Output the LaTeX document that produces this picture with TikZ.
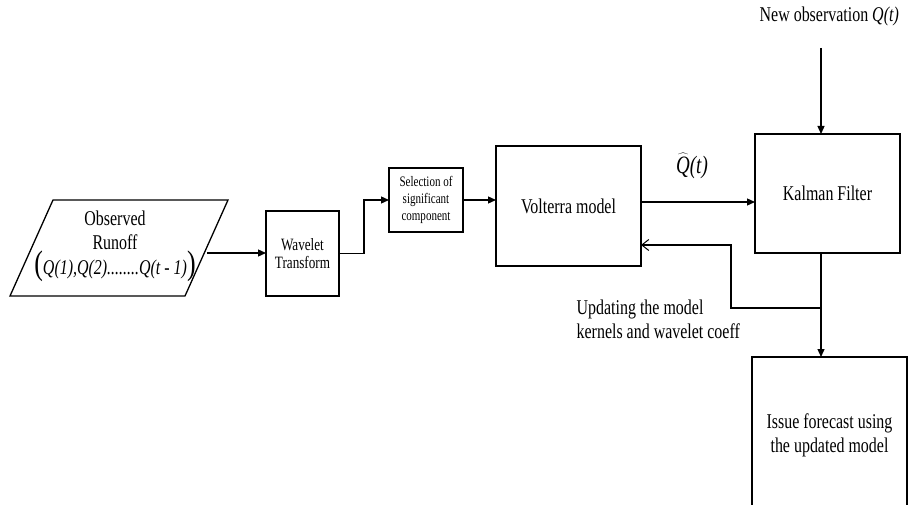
\documentclass[tikz,border=0pt]{standalone}
\usepackage{fontspec}
\setmainfont{Liberation Serif}[FakeStretch=0.76]
\usetikzlibrary{arrows.meta,calc}
\begin{document}
\begin{tikzpicture}[x=1pt,y=-1pt,line width=1.3pt,
  box/.style={draw,rectangle,inner sep=0pt,outer sep=0pt,align=center},
  arr/.style={-{Triangle[length=8pt,width=7pt]}},
  barb/.style={-{Straight Barb[length=7pt,width=11pt,line width=1pt]}},
  bigtxt/.style={font=\fontsize{21}{24}\selectfont},
  midtxt/.style={font=\fontsize{17.3}{18}\selectfont},
  smltxt/.style={font=\fontsize{14.5}{17}\selectfont}]
\useasboundingbox (0,0) rectangle (910,505);
% observed runoff parallelogram
\draw (53,200) -- (228,200) -- (185,296) -- (10,296) -- cycle;
\node[bigtxt,align=center,inner sep=0pt] (obs) at (115,246)
  {Observed\\Runoff\\[1pt]{\fontsize{34}{34}\selectfont(}\textit{Q(1),Q(2)........Q(t - 1)}{\fontsize{34}{34}\selectfont)}};
\coordinate (obsout) at (207,253);
% boxes
\node[box,midtxt,minimum width=73pt,minimum height=85pt] (wav) at (302.5,253.5) {Wavelet\\Transform};
\node[box,smltxt,minimum width=74pt,minimum height=64pt] (sel) at (426,200) {Selection of\\significant\\component};
\node[box,bigtxt,minimum width=145pt,minimum height=120pt] (vol) at (568.5,206) {Volterra model};
\node[box,bigtxt,minimum width=145pt,minimum height=119pt] (kal) at (827.5,193.5) {\raisebox{-6pt}{Kalman Filter}};
\node[box,bigtxt,minimum width=155pt,minimum height=156pt] (iss) at (829.5,435) {Issue forecast using\\the updated model};
% labels
\node[bigtxt,anchor=west,inner sep=0pt] (newobs) at (759,16) {New observation \textit{Q(t)}};
\node[font=\fontsize{25}{25}\selectfont,inner sep=0pt] (qhat) at (692,166) {$\widehat{\hbox{\itshape Q}}$\textit{(t)}};
\node[bigtxt,anchor=west,align=left,inner sep=0pt] (upd) at (576,319) {Updating the model\\kernels and wavelet coeff};
% connectors
\draw[arr] (obsout) -- (wav.west |- obsout);
\draw[arr] (wav.east) -- ++(25,0) |- (sel.west);
\draw[arr] (sel.east) -- (sel.east -| vol.west);
\coordinate (vout) at ($(vol.east)+(0,-4)$);
\draw[arr] (vout) -- (vout -| kal.west);
\coordinate (nobs) at (821,48);
\draw[arr] (nobs) -- (nobs |- kal.north);
\coordinate (kb) at (kal.south -| nobs);
\draw[arr] (kb) -- (kb |- iss.north);
\coordinate (j) at (821,308);
\coordinate (fb) at (641,245);
\draw[barb] (j) -- (731,308) |- (fb -| vol.east);
\end{tikzpicture}
\end{document}
